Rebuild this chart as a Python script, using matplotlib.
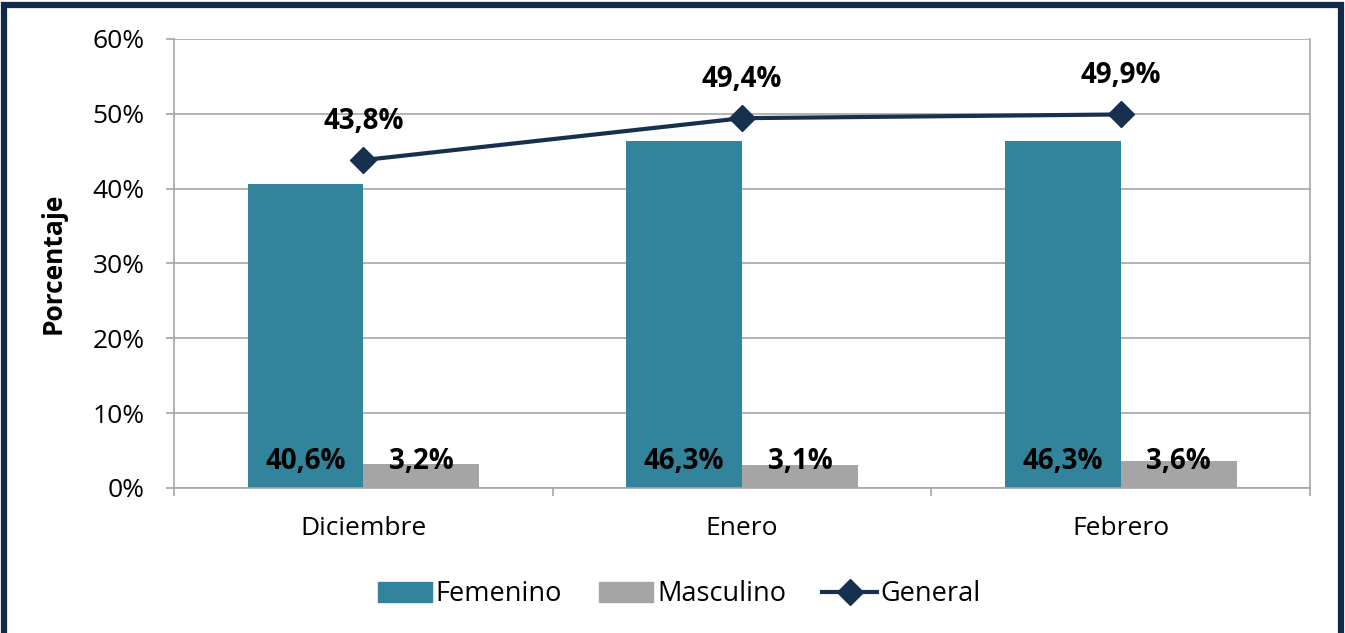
import matplotlib.pyplot as plt
from matplotlib.patches import Rectangle
from matplotlib.lines import Line2D
import numpy as np

months = ['Diciembre', 'Enero', 'Febrero']
femenino = [40.6, 46.3, 46.3]
masculino = [3.2, 3.1, 3.6]
general = [43.8, 49.4, 49.9]

c_fem = '#31849B'
c_mas = '#A5A5A5'
c_gen = '#17304F'
c_grid = '#A6A6A6'

plt.rcParams['font.family'] = ['Open Sans', 'DejaVu Sans']

fig = plt.figure(figsize=(13.45, 6.33), dpi=100)
ax = fig.add_axes([0.1294, 0.2293, 0.8446, 0.7093])

x = np.arange(len(months))
w = 0.306
ax.bar(x - w / 2, femenino, w, color=c_fem, zorder=2, label='Femenino')
ax.bar(x + w / 2, masculino, w, color=c_mas, zorder=2, label='Masculino')
ax.plot(x, general, color=c_gen, lw=3, marker='D', ms=13, zorder=3, label='General')

fmt = lambda v: f'{v:.1f}%'.replace('.', ',')
for i in range(len(months)):
    ax.text(x[i] - w / 2, 3.5, fmt(femenino[i]), ha='center', va='center',
            fontsize=20, fontweight='bold', color='black', zorder=4)
    ax.text(x[i] + w / 2, 3.5, fmt(masculino[i]), ha='center', va='center',
            fontsize=20, fontweight='bold', color='black', zorder=4)
    ax.text(x[i], general[i] + 5.2, fmt(general[i]), ha='center', va='center',
            fontsize=20, fontweight='bold', color='black', zorder=4)

ax.set_xlim(-0.5, 2.5)
ax.set_ylim(0, 60)
ax.set_yticks(range(0, 61, 10))
ax.set_yticklabels([f'{v}%' for v in range(0, 61, 10)], fontsize=19)
ax.set_xticks(x)
ax.set_xticklabels(months, fontsize=19)
ax.tick_params(axis='x', length=0, pad=20)
ax.tick_params(axis='y', length=6, pad=15, color=c_grid, width=1.2)
ax.set_xticks(np.arange(-0.5, 3.0, 1.0), minor=True)
ax.tick_params(axis='x', which='minor', length=6, color=c_grid, width=1.2)
ax.grid(axis='y', color=c_grid, lw=1.2, zorder=0)
ax.spines['top'].set_visible(False)
for s in ['left', 'right', 'bottom']:
    ax.spines[s].set_color(c_grid)
    ax.spines[s].set_linewidth(1.2)
ax.set_ylabel('Porcentaje', fontsize=19, fontweight='bold', labelpad=19)

handles = [Rectangle((0, 0), 1, 1, color=c_fem), Rectangle((0, 0), 1, 1, color=c_mas),
           Line2D([], [], color=c_gen, lw=3, marker='D', ms=13)]
fig.legend(handles, ['Femenino', 'Masculino', 'General'], loc='center',
           bbox_to_anchor=(0.505, 0.061), ncol=3, frameon=False, fontsize=19.5,
           handlelength=2.0, handleheight=0.75, handletextpad=0.15, columnspacing=1.35)

# outer dark frame
fig.patches.append(Rectangle((0.0030, -0.05), 0.9940, 1.042, transform=fig.transFigure,
                             fill=False, edgecolor='#14294A', lw=4.5))

fig.savefig('out.png', dpi=100)
